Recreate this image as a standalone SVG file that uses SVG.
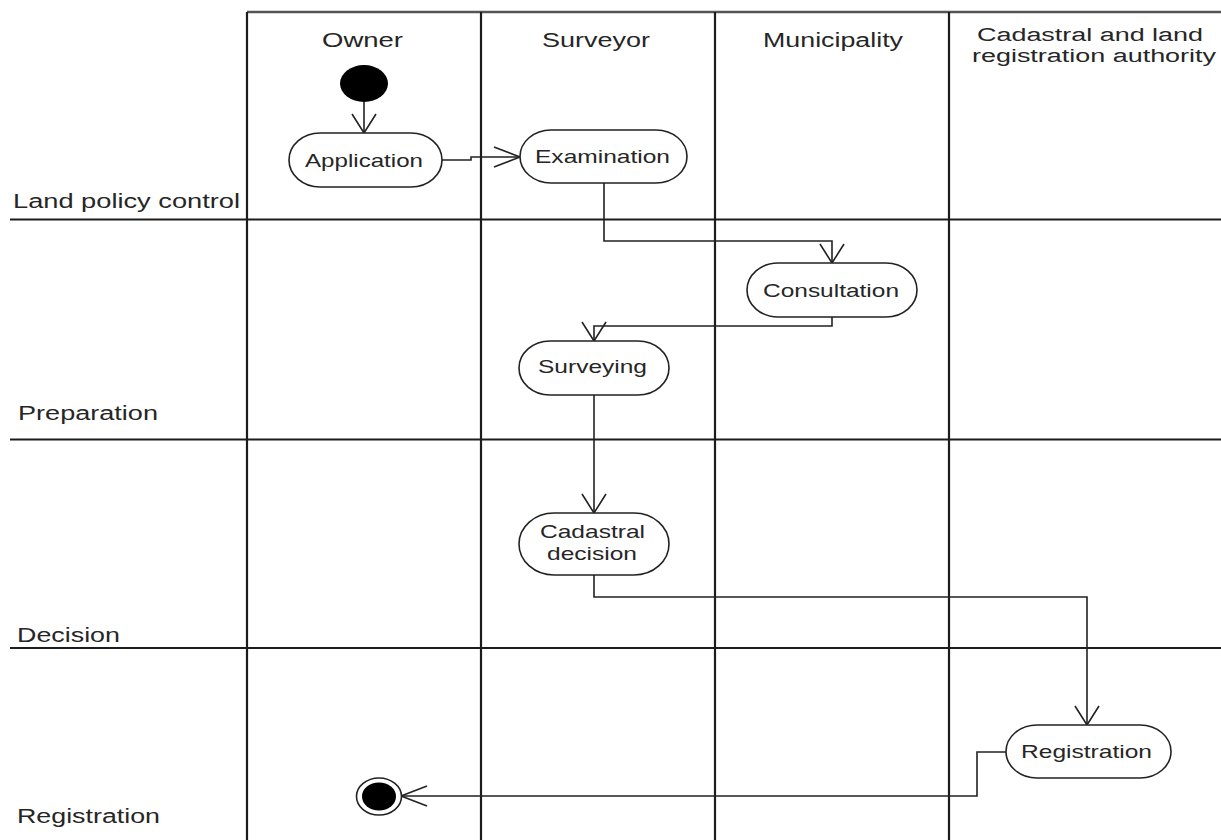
<svg xmlns="http://www.w3.org/2000/svg" width="1221" height="840" viewBox="0 0 1221 840">
<style>
.lane{stroke:#1c1c1c;stroke-width:2.2;fill:none}
.top{stroke:#555;stroke-width:2.6;fill:none}
.lbl{font-family:"Liberation Sans",Arial,sans-serif;font-size:20px;fill:#262626}
.hdr2{font-family:"Liberation Sans",Arial,sans-serif;font-size:18px;fill:#262626}
.ntx{font-family:"Liberation Sans",Arial,sans-serif;font-size:19px;fill:#262626}
.box{fill:#fff;stroke:#222;stroke-width:1.6}
.conn path{fill:none;stroke:#222;stroke-width:1.6}
.mk{fill:none;stroke:#222;stroke-width:1.6}
</style>
<defs>
<marker id="av" markerUnits="userSpaceOnUse" markerWidth="40" markerHeight="40" viewBox="0 0 40 40" refX="20" refY="20" orient="auto"><path class="mk" d="M1,8 L20,20 L1,32"/></marker>
<marker id="ah" markerUnits="userSpaceOnUse" markerWidth="40" markerHeight="40" viewBox="0 0 40 40" refX="30" refY="20" orient="auto"><path class="mk" d="M4,10 L30,20 L4,30"/></marker>
</defs>
<rect width="1221" height="840" fill="#fff"/>
<g id="swimlanes">
<line class="top" x1="247" y1="12" x2="1221" y2="12"/>
<line class="lane" x1="247" y1="12" x2="247" y2="840"/>
<line class="lane" x1="481" y1="12" x2="481" y2="840"/>
<line class="lane" x1="715" y1="12" x2="715" y2="840"/>
<line class="lane" x1="949" y1="12" x2="949" y2="840"/>
<line class="lane" x1="10" y1="219.5" x2="1221" y2="219.5"/>
<line class="lane" x1="10" y1="439.5" x2="1221" y2="439.5"/>
<line class="lane" x1="10" y1="648" x2="1221" y2="648"/>
<text class="lbl" x="322" y="47" textLength="81" lengthAdjust="spacingAndGlyphs">Owner</text>
<text class="lbl" x="542" y="47" textLength="108" lengthAdjust="spacingAndGlyphs">Surveyor</text>
<text class="lbl" x="763" y="47" textLength="140" lengthAdjust="spacingAndGlyphs">Municipality</text>
<text class="hdr2" x="977" y="41" textLength="226" lengthAdjust="spacingAndGlyphs">Cadastral and land</text>
<text class="hdr2" x="972" y="61.5" textLength="244" lengthAdjust="spacingAndGlyphs">registration authority</text>
<text class="lbl" x="13" y="208" textLength="227" lengthAdjust="spacingAndGlyphs">Land policy control</text>
<text class="lbl" x="18" y="420" textLength="140" lengthAdjust="spacingAndGlyphs">Preparation</text>
<text class="lbl" x="17" y="642" textLength="103" lengthAdjust="spacingAndGlyphs">Decision</text>
<text class="lbl" x="17" y="823" textLength="143" lengthAdjust="spacingAndGlyphs">Registration</text>
</g>
<g id="connectors" class="conn">
<path d="M364,102 L364,133" marker-end="url(#av)"/>
<path d="M442,160 L471,160 L471,157 L520,157" marker-end="url(#ah)"/>
<path d="M604,183 L604,241 L832,241 L832,263" marker-end="url(#av)"/>
<path d="M832,317 L832,326 L594,326 L594,341" marker-end="url(#av)"/>
<path d="M594,395 L594,513" marker-end="url(#av)"/>
<path d="M594,575 L594,597 L1087,597 L1087,725" marker-end="url(#av)"/>
<path d="M1006,752 L977,752 L977,796 L401,796" marker-end="url(#ah)"/>
</g>
<g id="start">
<ellipse cx="364" cy="83.5" rx="24" ry="18.5" fill="#000"/>
</g>
<g id="application">
<rect class="box" x="289" y="133" width="153" height="54" rx="31" ry="27"/>
<text class="ntx" x="305" y="167" textLength="118" lengthAdjust="spacingAndGlyphs">Application</text>
</g>
<g id="examination">
<rect class="box" x="520" y="130" width="167" height="53" rx="31" ry="26.5"/>
<text class="ntx" x="535" y="163" textLength="135" lengthAdjust="spacingAndGlyphs">Examination</text>
</g>
<g id="consultation">
<rect class="box" x="747" y="263" width="170" height="54" rx="31" ry="27"/>
<text class="ntx" x="763" y="297" textLength="136" lengthAdjust="spacingAndGlyphs">Consultation</text>
</g>
<g id="surveying">
<rect class="box" x="519" y="341" width="150" height="54" rx="31" ry="27"/>
<text class="ntx" x="538" y="373" textLength="109" lengthAdjust="spacingAndGlyphs">Surveying</text>
</g>
<g id="cadastral-decision">
<rect class="box" x="519" y="513" width="150" height="62" rx="35" ry="31"/>
<text class="ntx" x="540" y="538" textLength="105" lengthAdjust="spacingAndGlyphs">Cadastral</text>
<text class="ntx" x="547" y="560" textLength="90" lengthAdjust="spacingAndGlyphs">decision</text>
</g>
<g id="registration">
<rect class="box" x="1006" y="725" width="165" height="53" rx="31" ry="26.5"/>
<text class="ntx" x="1021" y="758" textLength="131" lengthAdjust="spacingAndGlyphs">Registration</text>
</g>
<g id="end">
<ellipse cx="379" cy="796.5" rx="22.5" ry="18.5" fill="#fff" stroke="#222" stroke-width="1.6"/>
<ellipse cx="379" cy="796.5" rx="17" ry="14" fill="#000"/>
</g>
</svg>
